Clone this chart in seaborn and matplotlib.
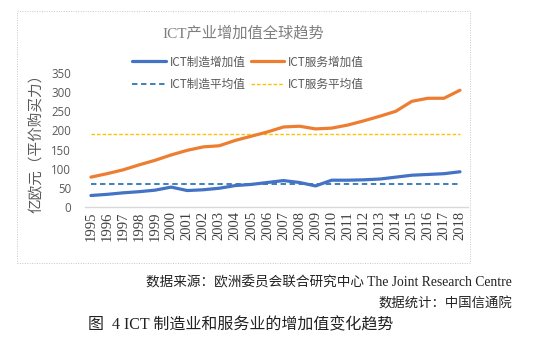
import matplotlib
matplotlib.use("Agg")
import matplotlib.pyplot as plt
import seaborn as sns
import pandas as pd
from matplotlib.lines import Line2D
from matplotlib.patches import Rectangle

years = list(range(1995, 2019))
manu = [30, 33, 37, 40, 44, 52, 43, 45, 49, 56, 59, 64, 69, 64, 55, 70, 70, 71, 73, 78, 83, 85, 87, 92]
serv = [78, 87, 97, 110, 122, 136, 148, 157, 160, 174, 185, 196, 209, 211, 204, 206, 214, 225, 237, 250, 276, 284, 284, 305]
manu_avg = 60
serv_avg = 190

title = "ICT产业增加值全球趋势"
ylabel = "亿欧元（平价购买力）"
labels = ["ICT制造增加值", "ICT服务增加值", "ICT制造平均值", "ICT服务平均值"]
note1 = "数据来源：欧洲委员会联合研究中心 The Joint Research Centre"
note2 = "数据统计：中国信通院"
caption = "图  4 ICT 制造业和服务业的增加值变化趋势"

sns.set_theme(style="white")
plt.rcParams['font.family'] = ['DejaVu Sans', 'Noto Sans CJK SC']

df = pd.DataFrame({"year": years, "manu": manu, "serv": serv,
                   "manu_avg": [manu_avg] * len(years), "serv_avg": [serv_avg] * len(years)})

W, H = 533, 346
fig = plt.figure(figsize=(W / 100, H / 100), dpi=100)
ax = fig.add_axes([85 / W, 1 - 207 / H, (468 - 85) / W, (207 - 73) / H])

c_manu = "#4472C4"
c_serv = "#ED7D31"
c_manu_avg = "#2E75B6"
c_serv_avg = "#FFC000"

sns.lineplot(data=df, x="year", y="manu_avg", ax=ax, color=c_manu_avg, lw=1.3, linestyle=(0, (3, 2)))
sns.lineplot(data=df, x="year", y="serv_avg", ax=ax, color=c_serv_avg, lw=1.0, linestyle=(0, (2.5, 1.5)))
sns.lineplot(data=df, x="year", y="manu", ax=ax, color=c_manu, lw=2.3)
sns.lineplot(data=df, x="year", y="serv", ax=ax, color=c_serv, lw=2.3)

ax.set_xlim(1994.63, 2018.5)
ax.set_ylim(0, 350)
ax.set_xticks(years)
ax.set_xticklabels([str(y) for y in years], rotation=90,
                   family=['Liberation Serif'], fontsize=10.5, color="#404040")
ax.set_yticks(range(0, 351, 50))
ax.set_yticklabels([str(v) for v in range(0, 351, 50)], fontsize=8.3, color="#595959",
                   family=['Open Sans'])
ax.tick_params(axis='both', length=0, pad=3)
ax.tick_params(axis='y', pad=10)
ax.set_xlabel("")
ax.set_ylabel(ylabel, fontsize=10.5, color="#595959", family=['Noto Sans CJK SC'], labelpad=5)
for s in ["top", "right", "left"]:
    ax.spines[s].set_visible(False)
ax.spines["bottom"].set_color("#D9D9D9")
ax.spines["bottom"].set_linewidth(1.0)
ax.patch.set_alpha(0)

# chart border
fig.patches.append(Rectangle((17 / W, 1 - 263 / H), (470 - 17) / W, (263 - 11) / H,
                             transform=fig.transFigure, fill=False, ec="#C8C8C8",
                             lw=0.7, ls=(0, (1, 1.5))))

fig.text(243 / W, 1 - 33 / H, title, ha="center", va="center", fontsize=11,
         color="#7F7F7F", family=['Liberation Serif', 'Noto Sans CJK SC'])

handles = [Line2D([], [], color=c_manu, lw=2.3),
           Line2D([], [], color=c_manu_avg, lw=1.3, ls=(0, (3, 2))),
           Line2D([], [], color=c_serv, lw=2.3),
           Line2D([], [], color=c_serv_avg, lw=1.0, ls=(0, (2.5, 1.5)))]
leg = fig.legend(handles, [labels[0], labels[2], labels[1], labels[3]], ncol=2,
                 loc="center", bbox_to_anchor=(248 / W, 1 - 73 / H), frameon=False,
                 handlelength=2.9, handletextpad=0.3, columnspacing=0.45,
                 labelspacing=0.8, prop={'family': ['Noto Sans CJK SC'], 'size': 8.4})
for t in leg.get_texts():
    t.set_color("#595959")

fig.text(512 / W, 1 - 283 / H, note1, ha="right", va="center", fontsize=9.8,
         color="#222222", family=['Liberation Serif', 'Noto Sans CJK SC'])
fig.text(512 / W, 1 - 304 / H, note2, ha="right", va="center", fontsize=9.6,
         color="#222222", family=['Liberation Serif', 'Noto Sans CJK SC'])
fig.text(88 / W, 1 - 325 / H, caption, ha="left", va="center", fontsize=11.5,
         color="#222222", family=['Liberation Serif', 'Noto Sans CJK SC'])

fig.savefig("out.png", dpi=100)
